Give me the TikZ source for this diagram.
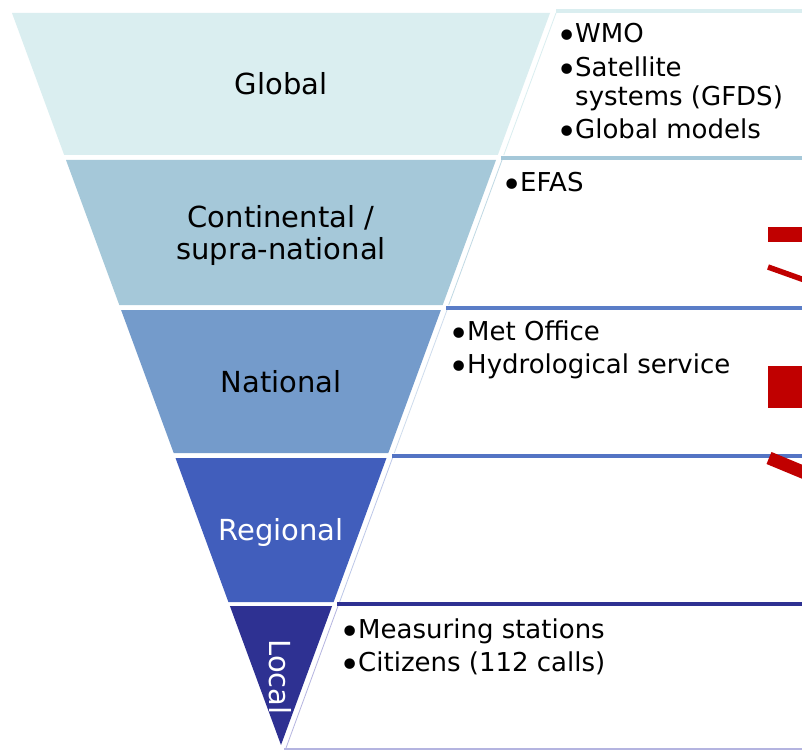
\documentclass[tikz,border=0pt]{standalone}
\usepackage{fontspec}
\setmainfont{DejaVu Sans}
\definecolor{cglob}{HTML}{DAEEF0}
\definecolor{ccont}{HTML}{A5C8D9}
\definecolor{cnat}{HTML}{749BCB}
\definecolor{cnatl}{HTML}{5A7DC7}
\definecolor{creg}{HTML}{415EBC}
\definecolor{cregl}{HTML}{5474C4}
\definecolor{cloc}{HTML}{2E3192}
\definecolor{cbot}{HTML}{B4B4E0}
\definecolor{cred}{HTML}{C00000}
\newcommand{\mybul}{\makebox[13pt][l]{\kern-5.6pt\raisebox{-6pt}{\fontsize{36}{30}\selectfont •}}}
\begin{document}
\begin{tikzpicture}[x=1pt,y=-1pt,
  bandlabel/.style={font=\fontsize{29}{33}\selectfont, anchor=base, inner sep=0pt},
  item/.style={font=\fontsize{26}{30}\selectfont, anchor=base west, inner sep=0pt},
  topline/.style={draw=#1, line width=4pt},
  edgeline/.style={draw=#1, line width=0.8pt},
  redshape/.style={fill=cred}]
\useasboundingbox (0,0) rectangle (802,751);
\fill[white] (0,0) rectangle (802,751);

% funnel bands
\fill[cglob] (12,13) -- (550,13) -- (497.8,155) -- (64.2,155) -- cycle;
\fill[ccont] (66,160) -- (496,160) -- (442.7,305) -- (119.3,305) -- cycle;
\fill[cnat] (121.1,310) -- (440.9,310) -- (388.3,453) -- (173.7,453) -- cycle;
\fill[creg] (175.5,458) -- (386.5,458) -- (333.6,602) -- (228.4,602) -- cycle;
\fill[cloc] (229.9,606) -- (332.1,606) -- (281,745) -- cycle;

% box left edges
\draw[edgeline=cglob] (556,13) -- (503.8,155);
\draw[edgeline=ccont!70] (502,160) -- (448.7,305);
\draw[edgeline=cnat!35] (447,310) -- (394.3,453);
\draw[edgeline=creg!35] (392.5,458) -- (339.6,602);
\draw[edgeline=cbot] (338,606) -- (286,748);

% box top lines
\coordinate (g1) at (556,11);   \coordinate (g2) at (802,11);
\coordinate (k1) at (501,158);  \coordinate (k2) at (802,158);
\coordinate (n1) at (446,307.5);\coordinate (n2) at (802,307.5);
\coordinate (r1) at (392,456);  \coordinate (r2) at (802,456);
\coordinate (l1) at (337,604);  \coordinate (l2) at (802,604);
\coordinate (b1) at (284,748.5);\coordinate (b2) at (802,748.5);
\draw[topline=cglob] (g1) -- (g2);
\draw[topline=ccont] (k1) -- (k2);
\draw[topline=cnatl] (n1) -- (n2);
\draw[topline=cregl] (r1) -- (r2);
\draw[topline=cloc] (l1) -- (l2);
\draw[draw=cbot, line width=2pt] (b1) -- (b2);

% band labels
\node[bandlabel] (global) at (281,95) {Global};
\node[bandlabel] (cont1) at (281,228) {Continental /};
\node[bandlabel] (cont2) at (281,259) {supra-national};
\node[bandlabel] (national) at (281,392) {National};
\node[bandlabel, text=white] (regional) at (281,540) {Regional};
\node[font=\fontsize{29}{33}\selectfont, text=white, rotate=-90, inner sep=0pt] (local) at (280,677) {Local};

% items
\node[item] (wmo) at (562,42.5) {\mybul WMO};
\node[item, anchor=north west, align=left, font=\fontsize{26}{29}\selectfont] (sat) at (562,56.2) {\mybul Satellite\\\hspace*{13pt}systems (GFDS)};
\node[item] (gmod) at (562,139) {\mybul Global models};
\node[item] (efas) at (507,192) {\mybul EFAS};
\node[item] (met) at (454,340) {\mybul Met Office};
\node[item] (hydro) at (454,373) {\mybul Hydrological service};
\node[item] (meas) at (345,638) {\mybul Measuring stations};
\node[item] (citi) at (345,671) {\mybul Citizens (112 calls)};

% red shapes at right edge
\fill[redshape] (768,227) rectangle (802,242);
\draw[cred, line width=5.5pt] (768,267) -- (810,282);
\fill[redshape] (768,366) rectangle (802,408);
\draw[cred, line width=13pt] (769,458) -- (810,475);
\end{tikzpicture}
\end{document}
